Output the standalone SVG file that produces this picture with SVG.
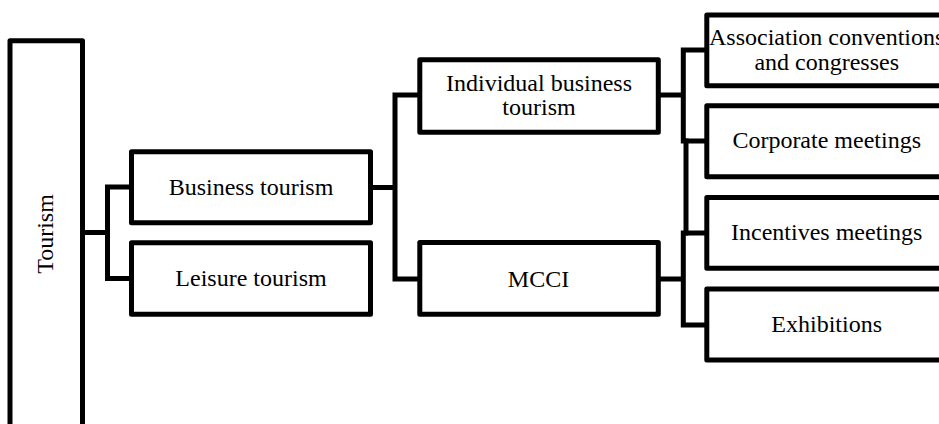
<svg xmlns="http://www.w3.org/2000/svg" width="939" height="424" viewBox="0 0 939 424">
<style>
.box{fill:#fff;stroke:#000;stroke-width:5;stroke-linejoin:round}
.lbl{font-family:"Liberation Serif","Times New Roman",serif;font-size:24px;fill:#000;text-anchor:middle}
.con{fill:none;stroke:#000;stroke-width:5;stroke-linejoin:round;stroke-linecap:square}
</style>
<rect width="939" height="424" fill="#fff"/>
<g id="connectors" class="con">
<path d="M82.5 232.5H107.5M107.5 187V278.5M107.5 187H131.5M107.5 278.5H131.5"/>
<path d="M370.5 187.5H395M395 95V279M395 95H419.8M395 279H419.8"/>
<path d="M658.3 95H683.3M683.3 50V141M683.3 50H706.8M683.3 141H706.8"/>
<path d="M686 141V233"/>
<path d="M658.3 279H683.3M683.3 233V325M683.3 233H706.8M683.3 325H706.8"/>
</g>
<g id="tourism">
<rect class="box" x="10" y="40.8" width="72.5" height="400"/>
<text class="lbl" transform="translate(53.3,234) rotate(-90)">Tourism</text>
</g>
<g id="business">
<rect class="box" x="131.5" y="151.7" width="239" height="71"/>
<text class="lbl" x="251" y="195">Business tourism</text>
</g>
<g id="leisure">
<rect class="box" x="131.5" y="242.8" width="239" height="71.5"/>
<text class="lbl" x="251" y="285.7">Leisure tourism</text>
</g>
<g id="individual">
<rect class="box" x="419.8" y="59.8" width="238.5" height="72.4"/>
<text class="lbl" x="539" y="90.7">Individual business</text>
<text class="lbl" x="539" y="115">tourism</text>
</g>
<g id="mcci">
<rect class="box" x="419.8" y="242.5" width="238.5" height="71.8"/>
<text class="lbl" x="538.5" y="286.7">MCCI</text>
</g>
<g id="association">
<rect class="box" x="706.8" y="15" width="240" height="70.8"/>
<text class="lbl" x="826.7" y="45">Association conventions</text>
<text class="lbl" x="826.7" y="69.5">and congresses</text>
</g>
<g id="corporate">
<rect class="box" x="706.8" y="105.8" width="240" height="71"/>
<text class="lbl" x="826.7" y="148.3">Corporate meetings</text>
</g>
<g id="incentives">
<rect class="box" x="706.8" y="197.5" width="240" height="70.8"/>
<text class="lbl" x="826.7" y="240">Incentives meetings</text>
</g>
<g id="exhibitions">
<rect class="box" x="706.8" y="289" width="240" height="71"/>
<text class="lbl" x="826.7" y="331.7">Exhibitions</text>
</g>
</svg>
